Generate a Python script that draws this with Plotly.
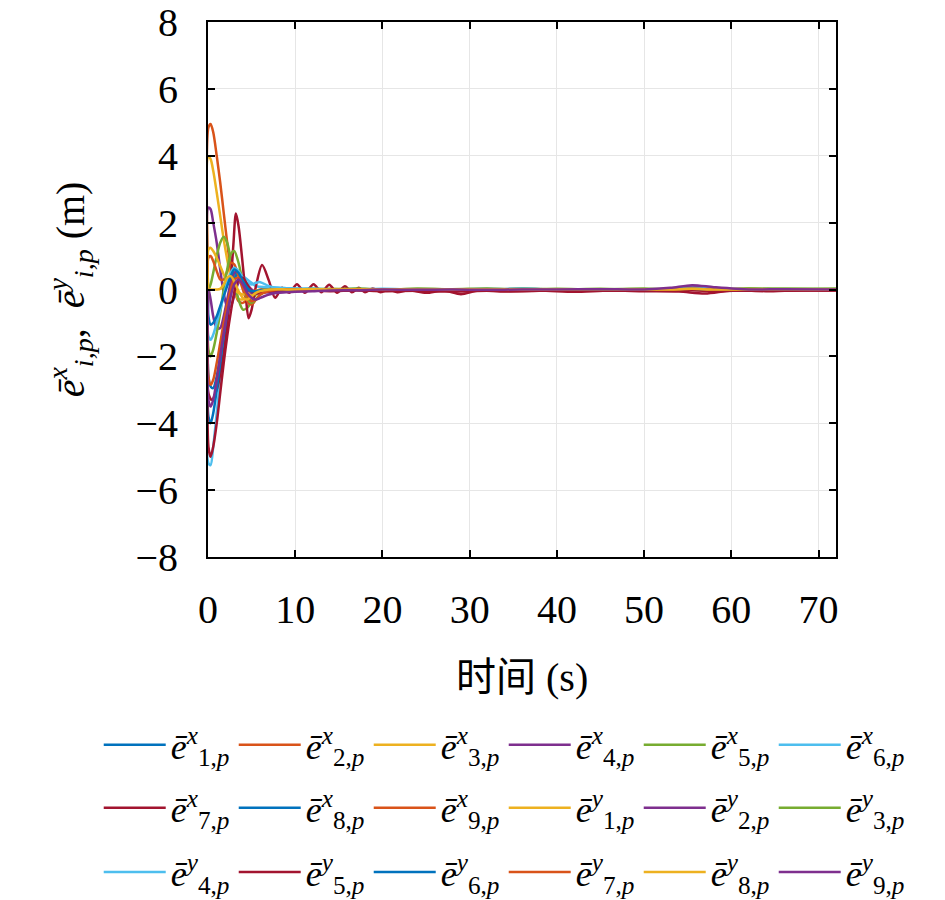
import plotly.graph_objects as go

# shared time base (s) for most channels
T = [0, 0.05, 0.3, 0.6, 1.0, 1.4, 1.8, 2.2, 2.6, 3.0, 3.5, 4.0, 4.5, 5.0, 5.5, 6.0,
     7, 8, 9, 10, 12, 14, 17, 20, 24, 28, 32, 36, 40, 45, 50, 53, 55.5, 58, 62, 66, 72]

E1X = [0, -2.6, -2.9, -2.95, -2.6, -2.0, -1.3, -0.6, 0.0, 0.45, 0.5, 0.2, -0.05, -0.15, -0.12, -0.05,
       0.02, 0.03, 0.0, -0.02, 0.0, 0.01, -0.01, 0.0, 0.01, -0.02, 0.0, 0.02, 0.0, -0.01, 0.0, 0.01, 0.03, 0.0, -0.01, 0.0, 0.01]
E2X = [0, 4.85, 4.95, 4.7, 4.0, 3.2, 2.3, 1.4, 0.6, 0.0, -0.35, -0.4, -0.3, -0.15, -0.05, 0.0,
       0.02, 0.0, -0.01, 0.0, 0.01, 0.0, -0.01, 0.0, 0.01, 0.0, -0.01, 0.0, 0.01, 0.0, -0.01, 0.0, 0.02, 0.0, 0.01, 0.0, 0.0]
E3X = [0, 3.98, 3.9, 3.55, 2.9, 2.2, 1.5, 0.9, 0.35, -0.05, -0.28, -0.3, -0.25, -0.15, -0.08, -0.03,
       0.0, 0.01, 0.0, -0.01, 0.0, 0.01, 0.0, -0.01, 0.0, 0.01, 0.0, 0.0, 0.01, 0.0, -0.01, 0.0, 0.01, 0.0, 0.02, 0.0, 0.01]
E4X = [0, 2.45, 2.4, 2.0, 1.4, 0.6, -0.1, -0.5, -0.5, -0.2, 0.2, 0.3, 0.15, 0.0, -0.08, -0.08,
       -0.03, 0.0, 0.01, 0.0, -0.01, 0.0, 0.01, 0.0, -0.01, 0.0, 0.01, 0.0, 0.0, 0.01, 0.0, 0.01, 0.03, 0.01, 0.0, 0.01, 0.0]
E5X = [0, 0.0, 0.15, 0.5, 1.0, 1.4, 1.58, 1.4, 0.9, 0.3, -0.3, -0.6, -0.55, -0.35, -0.15, -0.05,
       0.02, 0.03, 0.0, -0.02, 0.0, 0.02, 0.0, -0.01, 0.02, 0.0, -0.02, 0.03, 0.0, 0.02, -0.01, 0.0, 0.03, 0.0, 0.02, 0.03, 0.02]
E6X = [0, -5.2, -5.25, -4.7, -3.7, -2.7, -1.7, -0.9, -0.2, 0.3, 0.45, 0.4, 0.3, 0.2, 0.1, 0.08,
       0.06, 0.05, 0.04, 0.03, 0.02, 0.0, 0.02, 0.0, 0.01, 0.0, 0.02, 0.0, 0.01, 0.0, -0.01, 0.0, 0.02, 0.0, 0.0, 0.01, 0.0]
E8X = [0, -3.8, -4.0, -3.7, -3.0, -2.2, -1.4, -0.7, -0.1, 0.3, 0.5, 0.3, 0.05, -0.1, -0.1, -0.05,
       0.0, 0.02, 0.0, -0.01, 0.0, 0.01, 0.0, -0.01, 0.0, 0.01, 0.0, -0.01, 0.0, 0.01, 0.0, -0.01, 0.0, 0.01, 0.0, 0.0, 0.01]
E9X = [0, 0.95, 1.0, 0.85, 0.55, 0.3, 0.3, 0.55, 0.8, 0.75, 0.4, 0.0, -0.35, -0.45, -0.3, -0.15,
       -0.02, 0.03, 0.0, -0.02, 0.0, 0.01, -0.01, 0.0, 0.01, 0.0, -0.01, 0.0, 0.01, 0.0, -0.01, 0.0, 0.02, 0.0, 0.0, 0.01, 0.0]
E1Y = [0, 1.2, 1.25, 1.15, 0.95, 0.7, 0.45, 0.25, 0.1, 0.0, -0.1, -0.15, -0.12, -0.08, -0.04, -0.02,
       0.0, 0.01, 0.0, 0.0, 0.01, 0.0, -0.01, 0.0, 0.01, 0.0, 0.0, -0.01, 0.0, 0.01, 0.0, 0.0, 0.01, 0.0, 0.0, 0.01, 0.0]
E2Y = [0, 0.0, -0.3, -0.8, -1.15, -1.15, -0.8, -0.3, 0.2, 0.5, 0.55, 0.3, 0.05, -0.1, -0.12, -0.1,
       -0.08, -0.08, -0.06, -0.05, -0.03, -0.02, 0.0, -0.01, 0.0, 0.01, 0.0, -0.01, 0.0, 0.01, 0.0, 0.02, 0.08, 0.04, 0.0, 0.0, 0.0]
E3Y = [0, -1.8, -2.0, -1.8, -1.3, -0.7, 0.0, 0.6, 1.05, 1.15, 0.8, 0.2, -0.25, -0.4, -0.3, -0.15,
       0.0, 0.03, 0.01, 0.0, 0.02, 0.0, 0.03, 0.0, 0.02, 0.01, 0.03, 0.0, 0.02, 0.0, 0.03, 0.0, 0.01, 0.0, 0.03, 0.0, 0.02]
E4Y = [0, -1.4, -1.5, -1.35, -1.0, -0.6, -0.2, 0.2, 0.5, 0.65, 0.55, 0.35, 0.2, 0.15, 0.2, 0.22,
       0.1, 0.05, 0.04, 0.03, 0.02, 0.01, 0.0, 0.02, 0.0, 0.01, 0.0, 0.02, 0.0, 0.01, 0.0, 0.01, 0.05, 0.02, 0.0, 0.01, 0.0]
E5Y = [0, -4.7, -5.0, -4.7, -4.0, -3.1, -2.2, -1.4, -0.7, -0.1, 0.3, 0.35, 0.15, -0.05, -0.12, -0.1,
       -0.05, -0.02, -0.03, -0.04, -0.03, -0.05, -0.03, -0.05, -0.04, -0.06, -0.04, -0.05, -0.03, -0.04, -0.03, -0.04, -0.02, -0.05, -0.03, -0.04, -0.03]
E6Y = [0, -0.8, -1.05, -1.0, -0.8, -0.5, -0.2, 0.1, 0.4, 0.6, 0.5, 0.25, 0.05, -0.05, -0.05, -0.02,
       0.0, 0.01, 0.0, -0.01, 0.0, 0.01, 0.0, 0.0, 0.01, 0.0, 0.0, 0.01, 0.0, 0.0, 0.0, 0.01, 0.02, 0.0, 0.0, 0.01, 0.0]
E7Y = [0, -2.6, -2.85, -2.7, -2.2, -1.6, -1.0, -0.45, 0.0, 0.3, 0.35, 0.1, -0.2, -0.35, -0.3, -0.15,
       -0.05, 0.0, 0.01, 0.0, -0.01, 0.0, 0.01, 0.0, -0.01, 0.0, 0.01, 0.0, 0.0, 0.01, 0.0, 0.0, 0.02, 0.0, 0.0, 0.01, 0.0]
E8Y = [0, 0.0, 0.0, 0.0, 0.0, 0.02, 0.15, 0.35, 0.4, 0.25, -0.05, -0.25, -0.3, -0.2, -0.1, -0.05,
       0.0, 0.01, 0.0, 0.0, 0.01, 0.0, 0.0, 0.01, 0.0, 0.0, 0.01, 0.0, 0.0, 0.01, 0.0, 0.0, 0.02, 0.0, 0.0, 0.01, 0.0]
E9Y = [0, -3.3, -3.5, -3.3, -2.7, -2.0, -1.3, -0.7, -0.2, 0.15, 0.3, 0.15, -0.1, -0.25, -0.3, -0.25,
       -0.15, -0.1, -0.08, -0.07, -0.05, -0.03, -0.02, 0.0, -0.01, 0.0, -0.01, 0.0, 0.0, 0.01, 0.0, 0.05, 0.13, 0.07, 0.0, 0.01, 0.0]

# e7x rings longer, so it gets a denser time base
T7 = [0, 0.05, 0.4, 1.0, 1.5, 2.0, 2.5, 2.9, 3.2, 3.5, 4.0, 4.3, 4.65, 5.0, 5.5, 6.2, 7.0, 7.7, 8.5, 9.3,
      10.2, 11.1, 12.1, 13.0, 13.9, 14.8, 15.7, 16.5, 17.3, 18.0, 18.9, 19.8, 20.7, 21.7, 23, 25, 27, 29, 31, 34,
      38, 42, 46, 50, 54, 57, 60, 64, 68, 72]
E7X = [0, -3.1, -3.3, -3.0, -2.4, -1.5, -0.2, 1.3, 2.27, 1.9, 0.7, -0.1, -0.86, -0.6, 0.1, 0.73, 0.25, -0.25, 0.05, -0.1,
       0.16, -0.1, 0.16, -0.08, 0.14, -0.1, 0.1, -0.08, 0.05, -0.08, 0.03, -0.08, 0.0, -0.08, -0.02, -0.1, -0.03, -0.14, -0.03, -0.06,
       -0.03, -0.07, -0.03, -0.05, -0.06, -0.12, -0.03, -0.05, -0.02, -0.03]

NAMES = ["1", "2", "3", "4", "5", "6", "7", "8", "9"]
SERIES_X = [E1X, E2X, E3X, E4X, E5X, E6X, E7X, E8X, E9X]
SERIES_Y = [E1Y, E2Y, E3Y, E4Y, E5Y, E6Y, E7Y, E8Y, E9Y]

COLORS = ["#0072BD", "#D95319", "#EDB120", "#7E2F8E", "#77AC30", "#4DBEEE", "#A2142F"]
SERIF = "Liberation Serif, DejaVu Serif, Noto Sans CJK SC"
LEGENDS = ["legend", "legend2", "legend3"]

fig = go.Figure()
k = 0
for axis, group in (("x", SERIES_X), ("y", SERIES_Y)):
    for name, vals in zip(NAMES, group):
        tt = T7 if vals is E7X else T
        label = f"<i>ē</i><sup><i>{axis}</i></sup><sub>{name},<i>p</i></sub>"
        fig.add_trace(go.Scatter(
            x=tt, y=vals, mode="lines", name=label, legend=LEGENDS[k // 6],
            line=dict(color=COLORS[k % 7], width=2.5, shape="spline", smoothing=0.8),
        ))
        k += 1

axis_style = dict(
    showline=True, linecolor="black", linewidth=2, mirror="ticks",
    ticks="inside", ticklen=7, tickwidth=2, tickcolor="black",
    showgrid=True, gridcolor="#e6e6e6", gridwidth=1, zeroline=False,
    tickfont=dict(family=SERIF, size=40, color="black"), automargin=False,
)
fig.update_xaxes(range=[0, 72], tickvals=[0, 10, 20, 30, 40, 50, 60, 70],
                 ticklabelstandoff=16, **axis_style)
fig.update_yaxes(range=[-8, 8], tickvals=[-8, -6, -4, -2, 0, 2, 4, 6, 8],
                 ticklabelstandoff=20, **axis_style)

fig.add_annotation(
    text="<i>ē</i><sup><i>x</i></sup><sub><i>i,p</i></sub>,  <i>ē</i><sup><i>y</i></sup><sub><i>i,p</i></sub> (m)",
    xref="paper", yref="paper", x=-0.22, y=0.5, xanchor="center", yanchor="middle",
    textangle=-90, showarrow=False,
    font=dict(family=SERIF, size=40, color="black"),
)
fig.add_annotation(
    text="时间 (s)", xref="paper", yref="paper", x=0.5, y=-0.226,
    xanchor="center", yanchor="middle", showarrow=False,
    font=dict(family=SERIF, size=40, color="black"),
)

legend_common = dict(
    orientation="h", x=-0.174, xanchor="left", yanchor="middle",
    font=dict(family=SERIF, size=36, color="black"),
    itemwidth=62, entrywidth=58, entrywidthmode="pixels",
    bgcolor="rgba(0,0,0,0)",
)
fig.update_layout(
    width=945, height=900,
    margin=dict(l=208, r=109, t=22, b=343, autoexpand=False),
    plot_bgcolor="white", paper_bgcolor="white",
    showlegend=True,
    legend=dict(y=-0.351, **legend_common),
    legend2=dict(y=-0.469, **legend_common),
    legend3=dict(y=-0.589, **legend_common),
)

# drop the browser's default 8px body margin so the figure sits at the page origin
fig.write_html("out.html", config={"displayModeBar": False},
               post_script="document.body.style.margin='0';")
